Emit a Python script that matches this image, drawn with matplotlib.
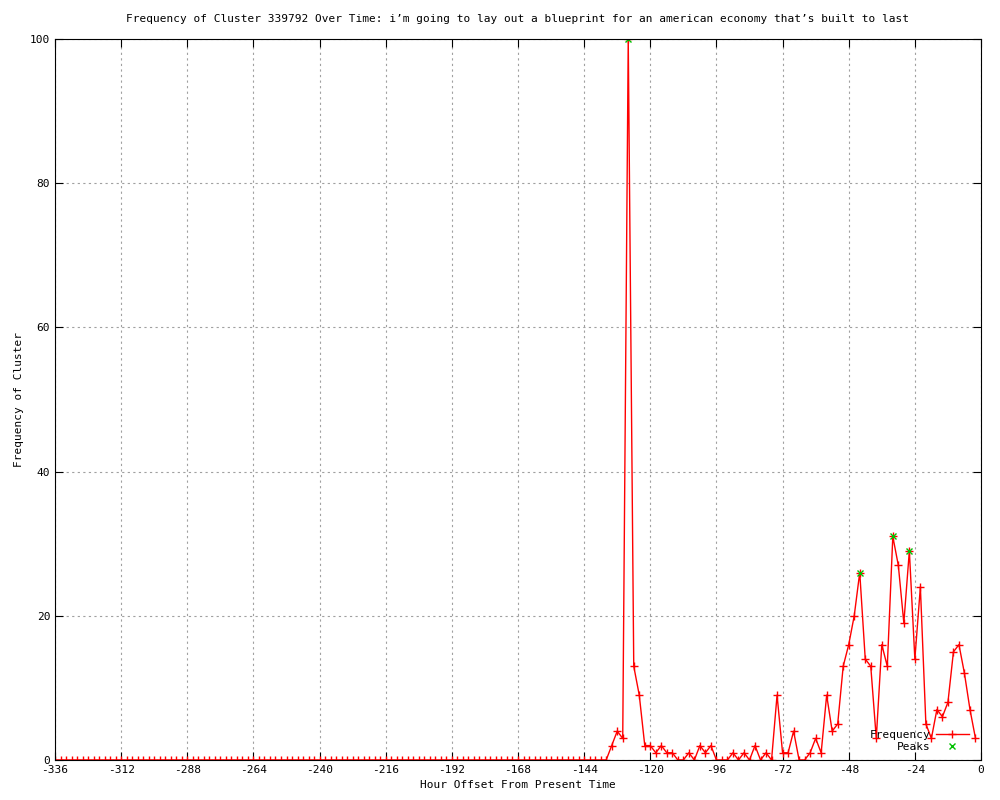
import numpy as np
import matplotlib
matplotlib.use('Agg')
import matplotlib.pyplot as plt

# Dados: horas a cada 2h, de -336 ate -2
hours = list(range(-336, 0, 2))
# valores nao nulos a partir de -134; antes disso tudo zero
tail_hours = list(range(-134, 0, 2))
tail_values = [2, 4, 3, 100, 13, 9, 2, 2, 1, 2, 1, 1, 0, 0, 1, 0, 2, 1, 2, 0,
               0, 0, 1, 0, 1, 0, 2, 0, 1, 0, 9, 1, 1, 4, 0, 0, 1, 3, 1, 9,
               4, 5, 13, 16, 20, 26, 14, 13, 3, 16, 13, 31, 27, 19, 29, 14, 24, 5, 3, 7,
               6, 8, 15, 16, 12, 7, 3]
freq = [0] * (len(hours) - len(tail_hours)) + tail_values

peak_hours = [-128, -44, -32, -26]
peak_values = [100, 26, 31, 29]

title = "Frequency of Cluster 339792 Over Time: i\u2019m going to lay out a blueprint for an american economy that\u2019s built to last"

plt.rcParams['font.family'] = 'DejaVu Sans Mono'
plt.rcParams['font.size'] = 8
plt.rcParams['axes.unicode_minus'] = False

fig = plt.figure(figsize=(10, 8), dpi=100)
ax = fig.add_axes([0.055, 0.05, 0.926, 0.90125])

ax.plot(hours, freq, color='red', lw=1, marker='+', ms=6, mew=1, label='Frequency')
ax.plot(peak_hours, peak_values, ls='none', color='#00c000', marker='x', ms=5, mew=1, label='Peaks')

ax.set_xlim(-336, 0)
ax.set_ylim(0, 100)
ax.set_xticks(range(-336, 1, 24))
ax.set_yticks(range(0, 101, 20))
ax.tick_params(direction='in', length=6, top=True, right=True, labelsize=8)
ax.grid(True, color='#a0a0a0', linestyle=(0, (2, 3)), lw=0.8)

ax.set_title(title, fontsize=8, pad=12)
ax.set_xlabel('Hour Offset From Present Time', fontsize=8)
ax.set_ylabel('Frequency of Cluster', fontsize=8)

ax.legend(loc='lower right', bbox_to_anchor=(0.995, 0.0), frameon=False,
          markerfirst=False, handlelength=2.9, handletextpad=0.5, fontsize=8,
          labelspacing=0.2, borderaxespad=0.3)

fig.savefig('out.png', dpi=100)
